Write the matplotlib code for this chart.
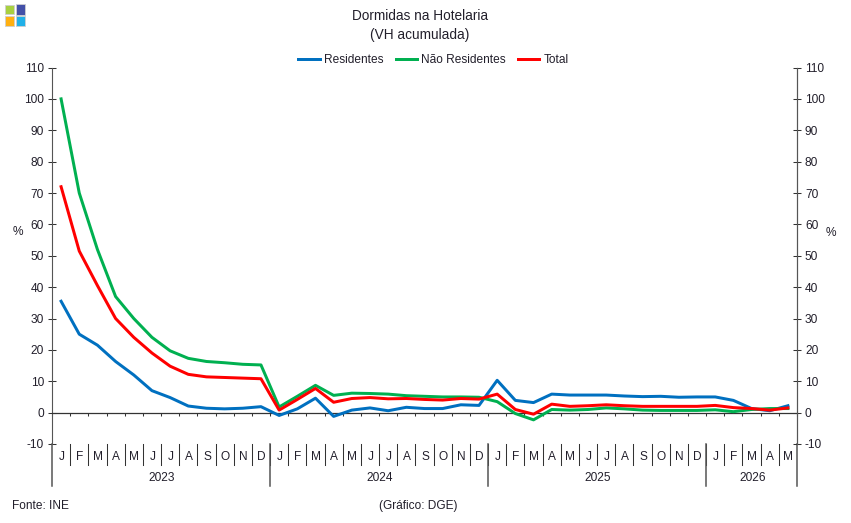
import matplotlib
matplotlib.use("Agg")
import matplotlib.pyplot as plt
from matplotlib.patches import Rectangle

plt.rcParams["font.family"] = ["Liberation Sans", "DejaVu Sans"]
plt.rcParams["axes.unicode_minus"] = False

# Dormidas na hotelaria, VH acumulada (%), Jan 2023 - Mai 2026
residentes = [35.5, 25, 21.5, 16.3, 12, 7, 4.8, 2.1, 1.4, 1.2, 1.4, 1.9,
              -0.9, 1.2, 4.6, -1.2, 0.8, 1.5, 0.6, 1.7, 1.3, 1.3, 2.5, 2.3,
              10.3, 3.9, 3.2, 5.9, 5.6, 5.6, 5.6, 5.3, 5.1, 5.2, 4.9, 5.0,
              5.0, 3.9, 1.3, 0.6, 2.2]
nao_residentes = [100, 70, 52, 37, 30, 24, 19.7, 17.3, 16.3, 15.9, 15.4, 15.2,
                  1.8, 5.2, 8.7, 5.5, 6.2, 6.1, 5.9, 5.4, 5.2, 5.0, 5.0, 4.9,
                  3.5, -0.3, -2.3, 1.0, 0.8, 1.0, 1.5, 1.2, 0.8, 0.7, 0.7, 0.7,
                  0.9, 0.3, 1.0, 1.3, 1.3]
total = [72, 51.5, 40.5, 30, 24, 19, 14.8, 12.2, 11.4, 11.2, 11, 10.8,
         0.8, 4.2, 7.7, 3.3, 4.5, 4.8, 4.4, 4.5, 4.2, 4.0, 4.5, 4.3,
         5.9, 1.0, -0.5, 2.7, 2.0, 2.2, 2.5, 2.2, 2.0, 2.0, 2.0, 2.0,
         2.3, 1.6, 1.3, 0.8, 1.5]
meses = list("JFMAMJJASOND") * 3 + list("JFMAM")
anos = ["2023", "2024", "2025", "2026"]
meses_por_ano = [12, 12, 12, 5]
y_ticks = list(range(-10, 111, 10))

W, H = 851, 523
TXT = "#221f2b"
AXC = "#555555"
FS = 8.6

fig = plt.figure(figsize=(W / 100, H / 100), dpi=100, facecolor="white")
ax = fig.add_axes([52 / W, 1 - 444 / H, 745 / W, 376.5 / H])

x = [i + 0.5 for i in range(len(meses))]
ax.plot(x, residentes, color="#0070c0", lw=2.15, solid_joinstyle="round", label="Residentes", zorder=3)
ax.plot(x, nao_residentes, color="#00b050", lw=2.15, solid_joinstyle="round", label="Não Residentes", zorder=4)
ax.plot(x, total, color="#ff0000", lw=2.15, solid_joinstyle="round", label="Total", zorder=5)

ax.set_xlim(0, len(meses))
ax.set_ylim(-10, 110)
ax.set_yticks(y_ticks)
ax.tick_params(axis="y", direction="inout", length=5.5, width=0.75, color="#333333",
               labelsize=FS, labelcolor=TXT, pad=3)

# eixo horizontal no zero, com as marcas viradas para baixo
ax.spines["top"].set_visible(False)
ax.spines["bottom"].set_position(("data", 0))
ax.spines["bottom"].set_color("#333333")
ax.spines["bottom"].set_linewidth(0.9)
ax.spines["left"].set_color(AXC)
ax.spines["right"].set_color(AXC)
ax.set_xticks(range(len(meses) + 1))
ax.tick_params(axis="x", direction="out", length=2.5, width=0.75, color="#333333", labelbottom=False)

axr = ax.twinx()
axr.set_ylim(-10, 110)
axr.set_yticks(y_ticks)
axr.tick_params(axis="y", direction="inout", length=5.5, width=0.75, color="#333333",
                labelsize=FS, labelcolor=TXT, pad=3)
for name in ("top", "bottom", "left"):
    axr.spines[name].set_visible(False)
axr.spines["right"].set_color(AXC)

# rotulos dos meses e separadores
trans = ax.get_xaxis_transform()
px = 1 / 376.5
for i in range(1, len(meses)):
    ax.plot([i, i], [0, -21 * px], transform=trans, color="#333333", lw=0.75, clip_on=False)
for xi, m in zip(x, meses):
    ax.text(xi + 0.03, -13 * px, m, transform=trans, ha="center", va="center", fontsize=FS, color=TXT)

# separadores e rotulos dos anos
inicio = 0
for ano, n in zip(anos, meses_por_ano):
    ax.text(inicio + n / 2 + 0.05, -34 * px, ano, transform=trans, ha="center", va="center",
            fontsize=FS, color=TXT)
    inicio += n
    ax.plot([inicio, inicio], [0, -42 * px], transform=trans, color=AXC, lw=1.1, clip_on=False)
ax.plot([0, 0], [0, -42 * px], transform=trans, color=AXC, lw=1.1, clip_on=False)

fig.text(420 / W, 1 - 16.5 / H, "Dormidas na Hotelaria", ha="center", va="center", fontsize=9.8, color=TXT)
fig.text(420 / W, 1 - 35.5 / H, "(VH acumulada)", ha="center", va="center", fontsize=9.8, color=TXT)
fig.text(18 / W, 1 - 232 / H, "%", ha="center", va="center", fontsize=FS, color=TXT)
fig.text(831 / W, 1 - 233 / H, "%", ha="center", va="center", fontsize=FS, color=TXT)
fig.text(12 / W, 1 - 506 / H, "Fonte: INE", ha="left", va="center", fontsize=FS, color=TXT)
fig.text(418 / W, 1 - 506 / H, "(Gráfico: DGE)", ha="center", va="center", fontsize=FS, color=TXT)

fig.legend(*ax.get_legend_handles_labels(), loc="center", bbox_to_anchor=(433.5 / W, 1 - 60 / H),
           ncol=3, frameon=False, fontsize=FS, labelcolor=TXT, handlelength=1.8,
           handletextpad=0.35, columnspacing=1.0, borderpad=0)

# logotipo
for (x0, y0, w, h, cor) in [(5, 5, 9, 9, "#a8d040"), (15.5, 4.5, 9.5, 10, "#4350a8"),
                            (5, 16, 9, 9.5, "#ffb010"), (15.5, 16, 9.5, 9.5, "#20b0e8")]:
    fig.add_artist(Rectangle((x0 / W, 1 - (y0 + h) / H), w / W, h / H, transform=fig.transFigure,
                             facecolor=cor, edgecolor="#cfcfcf", lw=0.6))

fig.savefig("out.png", dpi=100)
